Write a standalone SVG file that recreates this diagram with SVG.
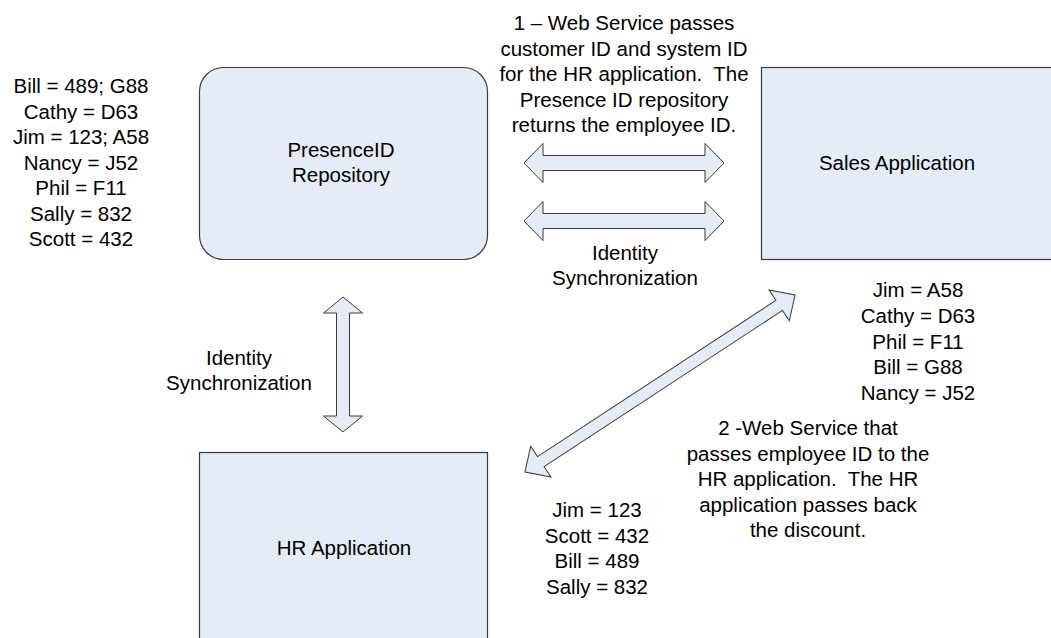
<svg xmlns="http://www.w3.org/2000/svg" width="1051" height="638" viewBox="0 0 1051 638">
<style>
.box{fill:#E5ECF6;stroke:#3a3a3a;stroke-width:1.2}
.arr{fill:#E5ECF6;stroke:#3a3a3a;stroke-width:1}
text{font-family:"Liberation Sans",Arial,sans-serif;font-size:20.5px;fill:#000;text-anchor:middle;white-space:pre}
</style>
<rect width="1051" height="638" fill="#fff"/>
<g id="presenceid">
<rect class="box" x="199.5" y="67.5" width="288" height="192" rx="24" ry="24"/>
<text x="341" y="157">PresenceID</text>
<text x="341" y="182">Repository</text>
</g>
<g id="sales">
<rect class="box" x="761.5" y="67.5" width="300" height="192"/>
<text x="897" y="170">Sales Application</text>
</g>
<g id="hr">
<rect class="box" x="199.5" y="452.5" width="288" height="200"/>
<text x="344" y="555">HR Application</text>
</g>
<g id="presence-list">
<text x="81" y="93">Bill = 489; G88</text>
<text x="81" y="118.5">Cathy = D63</text>
<text x="81" y="144">Jim = 123; A58</text>
<text x="81" y="169.5">Nancy = J52</text>
<text x="81" y="195">Phil = F11</text>
<text x="81" y="220.5">Sally = 832</text>
<text x="81" y="246">Scott = 432</text>
</g>
<g id="sales-list">
<text x="918" y="297">Jim = A58</text>
<text x="918" y="323">Cathy = D63</text>
<text x="918" y="348.5">Phil = F11</text>
<text x="918" y="374">Bill = G88</text>
<text x="918" y="400">Nancy = J52</text>
</g>
<g id="hr-list">
<text x="597" y="517">Jim = 123</text>
<text x="597" y="542.5">Scott = 432</text>
<text x="597" y="568">Bill = 489</text>
<text x="597" y="593.5">Sally = 832</text>
</g>
<g id="connectors">
<polygon class="arr" points="524,163 543,143.5 543,155.5 705,155.5 705,143.5 724,163 705,182.5 705,170.5 543,170.5 543,182.5"/>
<polygon class="arr" points="524,221 543,201.5 543,213.5 705,213.5 705,201.5 724,221 705,240.5 705,228.5 543,228.5 543,240.5"/>
<polygon class="arr" points="343,297 362.5,313 349.5,313 349.5,416 362.5,416 343,432 323.5,416 336.5,416 336.5,313 323.5,313"/>
<polygon class="arr" transform="translate(660,383.5) rotate(-33.25)" points="-161.5,0 -142.5,-18.5 -142.5,-6 142.5,-6 142.5,-18.5 161.5,0 142.5,18.5 142.5,6 -142.5,6 -142.5,18.5"/>
</g>
<g id="labels">
<text x="624" y="30">1 – Web Service passes</text>
<text x="624" y="55.5">customer ID and system ID</text>
<text x="624" y="81">for the HR application.  The</text>
<text x="624" y="106.5">Presence ID repository</text>
<text x="624" y="132">returns the employee ID.</text>
<text x="625" y="260">Identity</text>
<text x="625" y="285">Synchronization</text>
<text x="239" y="365">Identity</text>
<text x="239" y="390">Synchronization</text>
<text x="808" y="435">2 -Web Service that</text>
<text x="808" y="460.5">passes employee ID to the</text>
<text x="808" y="486">HR application.  The HR</text>
<text x="808" y="511.5">application passes back</text>
<text x="808" y="537">the discount.</text>
</g>
</svg>
